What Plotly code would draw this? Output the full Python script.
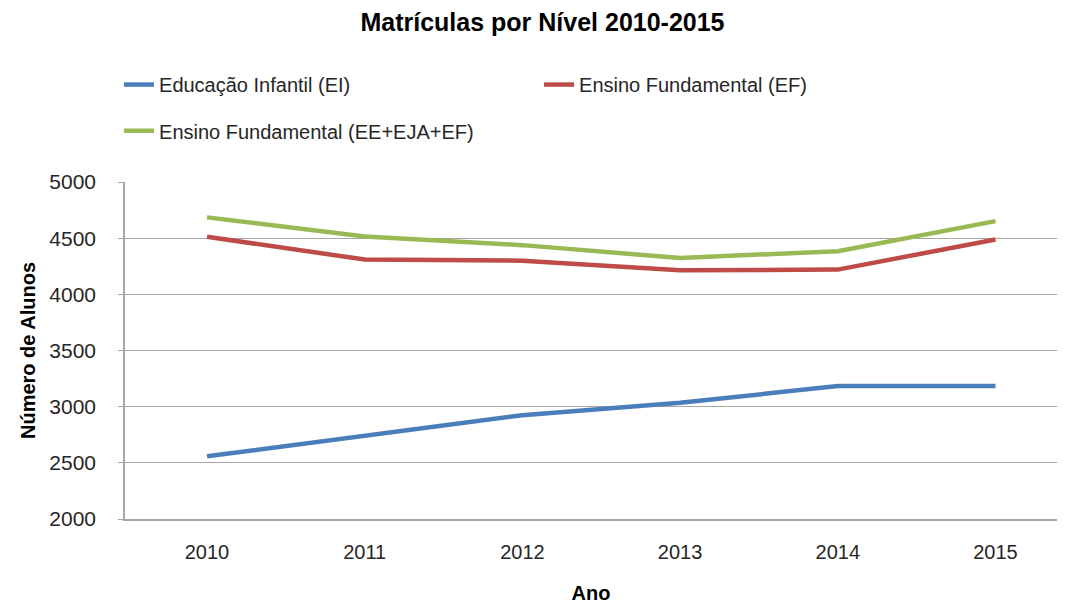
import plotly.graph_objects as go

anos = ['2010', '2011', '2012', '2013', '2014', '2015']
infantil = [2558, 2738, 2924, 3035, 3183, 3183]
fundamental = [4512, 4310, 4300, 4214, 4220, 4488]
fundamental_total = [4685, 4515, 4438, 4324, 4384, 4652]

fonte = 'Liberation Sans Narrow, Arial Narrow, Liberation Sans, sans-serif'
cinza = '#a6a6a6'

fig = go.Figure()
fig.add_trace(go.Scatter(x=anos, y=infantil, mode='lines', name='Educação Infantil (EI)',
                         line=dict(color='#4a7ebb', width=4.5), legend='legend'))
fig.add_trace(go.Scatter(x=anos, y=fundamental, mode='lines', name='Ensino Fundamental (EF)',
                         line=dict(color='#be4b48', width=4.5), legend='legend'))
fig.add_trace(go.Scatter(x=anos, y=fundamental_total, mode='lines', name='Ensino Fundamental (EE+EJA+EF)',
                         line=dict(color='#98b954', width=4.5), legend='legend2'))

leg = dict(orientation='h', xanchor='left', yanchor='top',
           entrywidth=375, entrywidthmode='pixels',
           font=dict(size=20, color='#262626'), bgcolor='rgba(0,0,0,0)')

fig.update_layout(
    width=1069, height=606,
    plot_bgcolor='white', paper_bgcolor='white',
    font=dict(family=fonte, size=20, color='#262626'),
    margin=dict(l=117, r=20, t=174, b=95, autoexpand=False),
    title=dict(text='<b>Matrículas por Nível 2010-2015</b>', x=0.5, xanchor='center',
               y=0.977, yanchor='middle', font=dict(size=25, color='black')),
    showlegend=True,
    legend=dict(leg, x=-0.0064, y=1.347),
    legend2=dict(leg, x=-0.0064, y=1.21),
    xaxis=dict(type='category', range=[-0.52, 5.39], showgrid=False,
               showline=True, linecolor=cinza, linewidth=1.5, ticks='',
               ticklabelstandoff=14, automargin=False,
               title=dict(text='<b>Ano</b>', standoff=24, font=dict(size=20, color='black'))),
    yaxis=dict(range=[2000, 5000], dtick=500, showgrid=True, gridcolor=cinza, gridwidth=1.2,
               showline=True, linecolor=cinza, linewidth=1.5, ticks='outside', ticklen=5,
               tickcolor=cinza, ticklabelstandoff=18, zeroline=False, automargin=False,
               tickfont=dict(size=21),
               title=dict(text='<b>Número de Alunos</b>', standoff=8, font=dict(size=20, color='black'))),
)

fig.write_html('out.html')
